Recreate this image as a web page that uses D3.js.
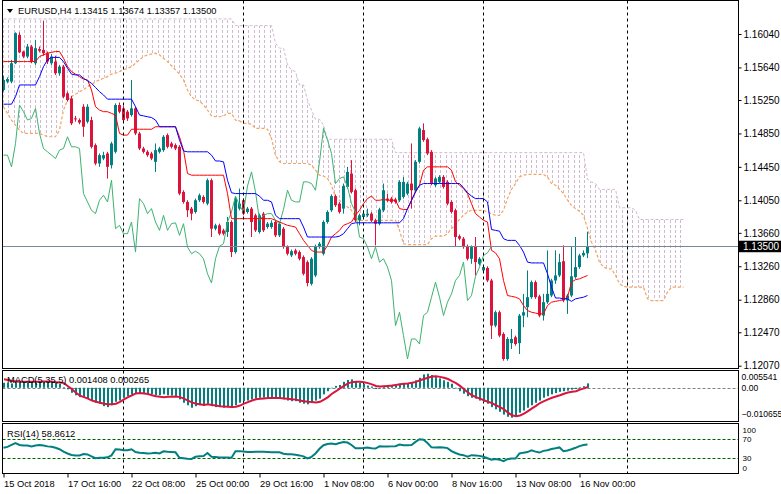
<!DOCTYPE html>
<html>
<head>
<meta charset="utf-8">
<script src="https://cdn.jsdelivr.net/npm/d3@7"></script>
<style>
    body { margin: 0; background: #ffffff; overflow: hidden; }
    text { font-family: "Liberation Sans", Arial, sans-serif; }
</style>
</head>
<body>
<div id="chartContainer"></div>
<script>
// EURUSD H4, one entry per bar (bar 0 = 15 Oct 2018 00:00)
var symbolTitle = 'EURUSD,H4  1.13415 1.13674 1.13357 1.13500';
var lastPrice = 1.13500;

var openP = [
    1.1537, 1.1547, 1.1547, 1.1569, 1.1603, 1.1583, 1.1577, 1.1589, 1.1569, 1.1586,
    1.1585, 1.1581, 1.1569, 1.1571, 1.1557, 1.1565, 1.1533, 1.1527, 1.1503, 1.1501,
    1.1517, 1.1499, 1.1501, 1.1471, 1.1449, 1.1455, 1.1461, 1.1447, 1.1463, 1.1519,
    1.1515, 1.1511, 1.1507, 1.1515, 1.1485, 1.1467, 1.1463, 1.1461, 1.1451, 1.1463,
    1.1465, 1.1483, 1.1473, 1.1471, 1.1469, 1.1415, 1.1403, 1.1395, 1.1391, 1.1405,
    1.1409, 1.1401, 1.1429, 1.1371, 1.1375, 1.1369, 1.1367, 1.1379, 1.1343, 1.1395,
    1.1405, 1.1391, 1.1395, 1.1387, 1.1367, 1.1389, 1.1373, 1.1373, 1.1379, 1.1363,
    1.1371, 1.1349, 1.1339, 1.1345, 1.1343, 1.1337, 1.1331, 1.1305, 1.1315, 1.1349,
    1.1341, 1.1379, 1.1393, 1.1410, 1.1401, 1.1395, 1.1421, 1.1437, 1.1417, 1.1381,
    1.1385, 1.1387, 1.1389, 1.1381, 1.1377, 1.1393, 1.1407, 1.1407, 1.1406, 1.1405,
    1.1409, 1.1413, 1.1425, 1.1417, 1.1451, 1.1489, 1.1478, 1.1463, 1.1423, 1.1427,
    1.1433, 1.1427, 1.1403, 1.1393, 1.1362, 1.1359, 1.1350, 1.1335, 1.1350, 1.1329,
    1.1321, 1.1324, 1.1309, 1.1255, 1.1271, 1.1245, 1.1215, 1.1234, 1.1241, 1.1234,
    1.1267, 1.1277, 1.1289, 1.1307, 1.1290, 1.1267, 1.1283, 1.1291, 1.1309, 1.1315,
    1.1332, 1.1285, 1.1291, 1.1313, 1.1325, 1.1339, 1.13415
];
var highP = [
    1.1554, 1.1552, 1.1573, 1.1606, 1.1606, 1.1584, 1.1592, 1.1591, 1.1597, 1.1589,
    1.1620, 1.1583, 1.1580, 1.1578, 1.1567, 1.1567, 1.1535, 1.1530, 1.1506, 1.1503,
    1.1520, 1.1520, 1.1505, 1.1473, 1.1461, 1.1463, 1.1463, 1.1475, 1.1521, 1.1522,
    1.1518, 1.1513, 1.1549, 1.1517, 1.1487, 1.1469, 1.1465, 1.1463, 1.1473, 1.1469,
    1.1483, 1.1485, 1.1475, 1.1473, 1.1471, 1.1417, 1.1405, 1.1397, 1.1407, 1.1413,
    1.1411, 1.1431, 1.1431, 1.1377, 1.1377, 1.1371, 1.1385, 1.1381, 1.1409, 1.1419,
    1.1407, 1.1397, 1.1397, 1.1389, 1.1389, 1.1391, 1.1379, 1.1381, 1.1381, 1.1379,
    1.1373, 1.1351, 1.1346, 1.1347, 1.1345, 1.1339, 1.1333, 1.1337, 1.1352, 1.1355,
    1.1381, 1.1393, 1.1412, 1.1412, 1.1403, 1.1425, 1.1445, 1.1453, 1.1419, 1.1389,
    1.1393, 1.1395, 1.1391, 1.1383, 1.1396, 1.1425, 1.1413, 1.1409, 1.1408, 1.1429,
    1.1433, 1.1427, 1.1473, 1.1453, 1.1493, 1.1497, 1.1480, 1.1465, 1.1433, 1.1435,
    1.1435, 1.1429, 1.1405, 1.1395, 1.1364, 1.1361, 1.1352, 1.1351, 1.1361, 1.1337,
    1.1327, 1.1326, 1.1311, 1.1273, 1.1273, 1.1247, 1.1241, 1.1251, 1.1243, 1.1269,
    1.1293, 1.1321, 1.1309, 1.1309, 1.1292, 1.1293, 1.1345, 1.1311, 1.1345, 1.1341,
    1.1351, 1.1293, 1.1349, 1.1361, 1.1341, 1.1345, 1.13674
];
var lowP = [
    1.1535, 1.1545, 1.1545, 1.1568, 1.1581, 1.1575, 1.1575, 1.1569, 1.1567, 1.1582,
    1.1578, 1.1568, 1.1567, 1.1555, 1.1554, 1.1527, 1.1523, 1.1495, 1.1499, 1.1496,
    1.1481, 1.1497, 1.1467, 1.1447, 1.1445, 1.1453, 1.1431, 1.1443, 1.1461, 1.1509,
    1.1499, 1.1500, 1.1505, 1.1483, 1.1465, 1.1461, 1.1457, 1.1453, 1.1439, 1.1461,
    1.1463, 1.1467, 1.1467, 1.1465, 1.1411, 1.1401, 1.1385, 1.1381, 1.1389, 1.1403,
    1.1401, 1.1399, 1.1361, 1.1369, 1.1363, 1.1363, 1.1361, 1.1337, 1.1341, 1.1393,
    1.1387, 1.1389, 1.1361, 1.1367, 1.1365, 1.1367, 1.1371, 1.1371, 1.1361, 1.1361,
    1.1347, 1.1339, 1.1337, 1.1339, 1.1333, 1.1315, 1.1302, 1.1303, 1.1313, 1.1347,
    1.1339, 1.1377, 1.1391, 1.1397, 1.1389, 1.1389, 1.1419, 1.1413, 1.1379, 1.1375,
    1.1383, 1.1385, 1.1379, 1.1351, 1.1375, 1.1391, 1.1403, 1.1401, 1.1401, 1.1403,
    1.1407, 1.1411, 1.1395, 1.1415, 1.1449, 1.1475, 1.1459, 1.1423, 1.1421, 1.1425,
    1.1419, 1.1399, 1.1389, 1.1349, 1.1357, 1.1347, 1.1333, 1.1329, 1.1315, 1.1327,
    1.1319, 1.1307, 1.1239, 1.1253, 1.1241, 1.1213, 1.1213, 1.1227, 1.1231, 1.1221,
    1.1253, 1.1265, 1.1287, 1.1287, 1.1265, 1.1261, 1.1281, 1.1289, 1.1305, 1.1313,
    1.1283, 1.1269, 1.1289, 1.1311, 1.1323, 1.1337, 1.13357
];
var closeP = [
    1.1549, 1.1550, 1.1569, 1.1605, 1.1582, 1.1577, 1.1589, 1.1571, 1.1587, 1.1584,
    1.1581, 1.1571, 1.1577, 1.1557, 1.1565, 1.1529, 1.1525, 1.1497, 1.1502, 1.1498,
    1.1493, 1.1517, 1.1469, 1.1449, 1.1459, 1.1459, 1.1445, 1.1473, 1.1519, 1.1511,
    1.1501, 1.1503, 1.1515, 1.1485, 1.1467, 1.1463, 1.1459, 1.1455, 1.1465, 1.1467,
    1.1481, 1.1469, 1.1469, 1.1467, 1.1413, 1.1403, 1.1393, 1.1389, 1.1405, 1.1411,
    1.1403, 1.1429, 1.1371, 1.1375, 1.1365, 1.1365, 1.1379, 1.1343, 1.1407, 1.1401,
    1.1389, 1.1395, 1.1379, 1.1369, 1.1387, 1.1369, 1.1377, 1.1378, 1.1363, 1.1377,
    1.1349, 1.1341, 1.1344, 1.1341, 1.1335, 1.1317, 1.1306, 1.1335, 1.1350, 1.1353,
    1.1379, 1.1391, 1.1410, 1.1399, 1.1391, 1.1422, 1.1439, 1.1415, 1.1381, 1.1387,
    1.1389, 1.1389, 1.1381, 1.1377, 1.1394, 1.1417, 1.1405, 1.1403, 1.1403, 1.1427,
    1.1427, 1.1425, 1.1417, 1.1451, 1.1491, 1.1477, 1.1461, 1.1425, 1.1431, 1.1433,
    1.1421, 1.1401, 1.1391, 1.1361, 1.1359, 1.1349, 1.1335, 1.1349, 1.1331, 1.1335,
    1.1325, 1.1309, 1.1255, 1.1271, 1.1243, 1.1215, 1.1239, 1.1239, 1.1233, 1.1267,
    1.1271, 1.1289, 1.1307, 1.1289, 1.1267, 1.1283, 1.1293, 1.1309, 1.1315, 1.1331,
    1.1285, 1.1291, 1.1314, 1.1325, 1.1339, 1.1342, 1.13500
];

// Ichimoku lines
var tenkan = [
    1.1571, 1.1571, 1.1571, 1.1571, 1.1571, 1.1571, 1.1571, 1.1571, 1.1571, 1.1577,
    1.1579, 1.1581, 1.1582, 1.1583, 1.1583, 1.1575, 1.1565, 1.1559, 1.1556, 1.1553,
    1.1550, 1.1549, 1.1537, 1.1517, 1.1513, 1.1511, 1.1511, 1.1509, 1.1507, 1.1485,
    1.1483, 1.1483, 1.1490, 1.1490, 1.1490, 1.1490, 1.1490, 1.1490, 1.1493, 1.1493,
    1.1493, 1.1493, 1.1493, 1.1493, 1.1481, 1.1465, 1.1437, 1.1435, 1.1435, 1.1435,
    1.1435, 1.1435, 1.1435, 1.1435, 1.1435, 1.1435, 1.1413, 1.1383, 1.1383, 1.1383,
    1.1383, 1.1383, 1.1383, 1.1383, 1.1383, 1.1383, 1.1383, 1.1383, 1.1381, 1.1379,
    1.1377, 1.1375, 1.1374, 1.1373, 1.1365, 1.1357, 1.1351, 1.1345, 1.1343, 1.1343,
    1.1343, 1.1351, 1.1361, 1.1365, 1.1369, 1.1375, 1.1377, 1.1379, 1.1387, 1.1393,
    1.1401, 1.1407, 1.1410, 1.1405, 1.1405, 1.1406, 1.1405, 1.1405, 1.1405, 1.1395,
    1.1394, 1.1394, 1.1405, 1.1415, 1.1423, 1.1441, 1.1445, 1.1445, 1.1445, 1.1445,
    1.1445, 1.1445, 1.1441, 1.1427, 1.1423, 1.1419, 1.1413, 1.1401, 1.1389, 1.1385,
    1.1381, 1.1379, 1.1345, 1.1342, 1.1335, 1.1309, 1.1291, 1.1290, 1.1289, 1.1287,
    1.1279, 1.1273, 1.1271, 1.1270, 1.1269, 1.1269, 1.1279, 1.1283, 1.1284, 1.1285,
    1.1286, 1.1289, 1.1307, 1.1310, 1.1311, 1.1313, 1.1315
];
var kijun = [
    1.1520, 1.1520, 1.1520, 1.1529, 1.1543, 1.1543, 1.1543, 1.1543, 1.1543, 1.1553,
    1.1565, 1.1573, 1.1576, 1.1576, 1.1576, 1.1571, 1.1563, 1.1556, 1.1555, 1.1555,
    1.1551, 1.1548, 1.1545, 1.1540, 1.1535, 1.1531, 1.1526, 1.1526, 1.1526, 1.1526,
    1.1526, 1.1526, 1.1526, 1.1517, 1.1507, 1.1506, 1.1505, 1.1504, 1.1501, 1.1493,
    1.1493, 1.1493, 1.1493, 1.1493, 1.1477, 1.1464, 1.1463, 1.1463, 1.1463, 1.1463,
    1.1463, 1.1463, 1.1459, 1.1452, 1.1452, 1.1451, 1.1429, 1.1414, 1.1413, 1.1413,
    1.1413, 1.1413, 1.1413, 1.1413, 1.1410, 1.1405, 1.1405, 1.1403, 1.1387, 1.1383,
    1.1383, 1.1383, 1.1383, 1.1383, 1.1383, 1.1373, 1.1361, 1.1361, 1.1361, 1.1361,
    1.1361, 1.1361, 1.1361, 1.1361, 1.1362, 1.1365, 1.1371, 1.1377, 1.1378, 1.1378,
    1.1378, 1.1378, 1.1378, 1.1378, 1.1378, 1.1378, 1.1378, 1.1378, 1.1378, 1.1378,
    1.1383, 1.1395, 1.1405, 1.1415, 1.1423, 1.1425, 1.1425, 1.1425, 1.1425, 1.1425,
    1.1425, 1.1425, 1.1425, 1.1425, 1.1425, 1.1420, 1.1414, 1.1410, 1.1407, 1.1407,
    1.1407, 1.1403, 1.1370, 1.1369, 1.1368, 1.1359, 1.1357, 1.1357, 1.1357, 1.1351,
    1.1343, 1.1331, 1.1330, 1.1330, 1.1330, 1.1330, 1.1317, 1.1301, 1.1288, 1.1288,
    1.1287, 1.1287, 1.1284, 1.1287, 1.1288, 1.1289, 1.1291
];
// cloud spans, already shifted forward (bars 0..170)
var spanA = [
    1.1517, 1.1509, 1.1501, 1.1495, 1.1489, 1.1485, 1.1485, 1.1485, 1.1485, 1.1485,
    1.1483, 1.1481, 1.1481, 1.1481, 1.1489, 1.1513, 1.1525, 1.1529, 1.1532, 1.1535,
    1.1537, 1.1541, 1.1543, 1.1547, 1.1549, 1.1551, 1.1553, 1.1556, 1.1557, 1.1559,
    1.1561, 1.1563, 1.1565, 1.1569, 1.1573, 1.1577, 1.1579, 1.1580, 1.1581, 1.1579,
    1.1575, 1.1571, 1.1566, 1.1561, 1.1556, 1.1549, 1.1537, 1.1529, 1.1525, 1.1524,
    1.1519, 1.1513, 1.1506, 1.1505, 1.1505, 1.1506, 1.1509, 1.1509, 1.1501, 1.1500,
    1.1497, 1.1497, 1.1496, 1.1491, 1.1491, 1.1491, 1.1490, 1.1479, 1.1459, 1.1451,
    1.1449, 1.1449, 1.1449, 1.1449, 1.1449, 1.1449, 1.1449, 1.1447, 1.1441, 1.1435,
    1.1434, 1.1431, 1.1423, 1.1409, 1.1405, 1.1400, 1.1397, 1.1393, 1.1385, 1.1381,
    1.1381, 1.1381, 1.1381, 1.1381, 1.1381, 1.1381, 1.1381, 1.1381, 1.1381, 1.1369,
    1.1353, 1.1352, 1.1352, 1.1352, 1.1352, 1.1352, 1.1352, 1.1359, 1.1362, 1.1362,
    1.1362, 1.1365, 1.1371, 1.1376, 1.1382, 1.1387, 1.1391, 1.1393, 1.1393, 1.1393,
    1.1393, 1.1391, 1.1389, 1.1387, 1.1387, 1.1393, 1.1407, 1.1418, 1.1425, 1.1433,
    1.1435, 1.1436, 1.1436, 1.1436, 1.1436, 1.1436, 1.1433, 1.1425, 1.1423, 1.1418,
    1.1413, 1.1405, 1.1399, 1.1395, 1.1392, 1.1387, 1.1371, 1.1355, 1.1345, 1.1331,
    1.1325, 1.1323, 1.1323, 1.1315, 1.1305, 1.1302, 1.1301, 1.1301, 1.1301, 1.1301,
    1.1301, 1.1287, 1.1285, 1.1285, 1.1285, 1.1285, 1.1295, 1.1301, 1.1301, 1.1301,
    1.1301
];
var spanB = [
    1.1622, 1.1622, 1.1622, 1.1622, 1.1622, 1.1622, 1.1622, 1.1622, 1.1622, 1.1622,
    1.1622, 1.1622, 1.1622, 1.1622, 1.1622, 1.1622, 1.1622, 1.1622, 1.1622, 1.1622,
    1.1622, 1.1622, 1.1622, 1.1622, 1.1622, 1.1622, 1.1622, 1.1622, 1.1622, 1.1622,
    1.1622, 1.1622, 1.1622, 1.1622, 1.1622, 1.1622, 1.1622, 1.1622, 1.1622, 1.1622,
    1.1622, 1.1622, 1.1622, 1.1622, 1.1622, 1.1622, 1.1622, 1.1622, 1.1622, 1.1622,
    1.1622, 1.1622, 1.1622, 1.1622, 1.1622, 1.1622, 1.1622, 1.1622, 1.1614, 1.1614,
    1.1614, 1.1614, 1.1614, 1.1614, 1.1614, 1.1614, 1.1614, 1.1614, 1.1593, 1.1587,
    1.1587, 1.1567, 1.1561, 1.1559, 1.1543, 1.1543, 1.1525, 1.1513, 1.1502, 1.1502,
    1.1495, 1.1478, 1.1478, 1.1478, 1.1478, 1.1478, 1.1478, 1.1478, 1.1478, 1.1478,
    1.1478, 1.1478, 1.1478, 1.1478, 1.1478, 1.1478, 1.1478, 1.1478, 1.1462, 1.1462,
    1.1462, 1.1462, 1.1462, 1.1462, 1.1462, 1.1462, 1.1462, 1.1462, 1.1462, 1.1462,
    1.1462, 1.1462, 1.1462, 1.1462, 1.1462, 1.1462, 1.1462, 1.1462, 1.1462, 1.1462,
    1.1462, 1.1462, 1.1462, 1.1462, 1.1462, 1.1462, 1.1462, 1.1462, 1.1462, 1.1462,
    1.1462, 1.1462, 1.1462, 1.1462, 1.1462, 1.1462, 1.1462, 1.1462, 1.1462, 1.1462,
    1.1462, 1.1462, 1.1462, 1.1462, 1.1462, 1.1462, 1.1430, 1.1427, 1.1425, 1.1418,
    1.1418, 1.1418, 1.1418, 1.1418, 1.1396, 1.1396, 1.1396, 1.1396, 1.1393, 1.1382,
    1.1382, 1.1382, 1.1382, 1.1382, 1.1382, 1.1382, 1.1382, 1.1382, 1.1382, 1.1382,
    1.1382
];
var chikouShift = 24;

// MACD(5,35,5)
var macdMain = [
    0.0016, 0.0016, 0.0014, 0.0019, 0.0021, 0.0019, 0.0018, 0.0019, 0.0019, 0.0019,
    0.0021, 0.0019, 0.0018, 0.0016, 0.0013, 0.0002, -0.0005, -0.0016, -0.0024, -0.0030,
    -0.0032, -0.0034, -0.0041, -0.0048, -0.0051, -0.0059, -0.0062, -0.0056, -0.0045, -0.0041,
    -0.0032, -0.0027, -0.0021, -0.0019, -0.0018, -0.0019, -0.0019, -0.0021, -0.0024, -0.0024,
    -0.0021, -0.0024, -0.0025, -0.0027, -0.0037, -0.0048, -0.0056, -0.0064, -0.0059, -0.0056,
    -0.0056, -0.0051, -0.0059, -0.0062, -0.0062, -0.0064, -0.0062, -0.0064, -0.0056, -0.0048,
    -0.0043, -0.0041, -0.0037, -0.0035, -0.0032, -0.0032, -0.0032, -0.0032, -0.0032, -0.0034,
    -0.0037, -0.0041, -0.0043, -0.0043, -0.0048, -0.0051, -0.0053, -0.0048, -0.0041, -0.0035,
    -0.0021, -0.0011, 0.0000, 0.0006, 0.0009, 0.0019, 0.0025, 0.0027, 0.0019, 0.0016,
    0.0013, 0.0007, 0.0004, -0.0004, -0.0002, 0.0006, 0.0009, 0.0007, 0.0007, 0.0013,
    0.0015, 0.0014, 0.0015, 0.0024, 0.0032, 0.0043, 0.0045, 0.0041, 0.0034, 0.0030,
    0.0024, 0.0019, 0.0013, -0.0002, -0.0011, -0.0019, -0.0027, -0.0032, -0.0035, -0.0041,
    -0.0045, -0.0051, -0.0062, -0.0069, -0.0077, -0.0086, -0.0093, -0.0096, -0.0091, -0.0080,
    -0.0073, -0.0064, -0.0056, -0.0048, -0.0041, -0.0032, -0.0027, -0.0021, -0.0017, -0.0013,
    -0.0011, -0.0009, -0.0006, -0.0004, 0.0002, 0.0005, 0.001408
];
var macdSignal = [
    0.0027, 0.0025, 0.0022, 0.0020, 0.0019, 0.0019, 0.0019, 0.0019, 0.0019, 0.0019,
    0.0020, 0.0020, 0.0019, 0.0018, 0.0017, 0.0015, 0.0005, -0.0005, -0.0016, -0.0025,
    -0.0030, -0.0035, -0.0041, -0.0045, -0.0048, -0.0051, -0.0053, -0.0053, -0.0051, -0.0045,
    -0.0037, -0.0030, -0.0024, -0.0018, -0.0017, -0.0018, -0.0020, -0.0024, -0.0027, -0.0029,
    -0.0030, -0.0029, -0.0029, -0.0028, -0.0030, -0.0035, -0.0041, -0.0047, -0.0051, -0.0053,
    -0.0055, -0.0053, -0.0055, -0.0057, -0.0059, -0.0060, -0.0061, -0.0062, -0.0061, -0.0057,
    -0.0051, -0.0046, -0.0041, -0.0037, -0.0035, -0.0034, -0.0033, -0.0033, -0.0033, -0.0033,
    -0.0034, -0.0035, -0.0037, -0.0038, -0.0041, -0.0043, -0.0045, -0.0046, -0.0047, -0.0045,
    -0.0038, -0.0030, -0.0019, -0.0011, -0.0002, 0.0006, 0.0014, 0.0018, 0.0019, 0.0019,
    0.0018, 0.0015, 0.0011, 0.0006, 0.0004, 0.0005, 0.0006, 0.0007, 0.0009, 0.0011,
    0.0013, 0.0014, 0.0016, 0.0019, 0.0024, 0.0028, 0.0032, 0.0036, 0.0037, 0.0035,
    0.0032, 0.0028, 0.0021, 0.0015, 0.0006, -0.0005, -0.0015, -0.0024, -0.0030, -0.0035,
    -0.0040, -0.0045, -0.0049, -0.0056, -0.0062, -0.0069, -0.0080, -0.0088, -0.0091, -0.0089,
    -0.0083, -0.0075, -0.0066, -0.0058, -0.0049, -0.0043, -0.0037, -0.0032, -0.0028, -0.0024,
    -0.0019, -0.0015, -0.0013, -0.0011, -0.0006, -0.0002, 0.000265
];

// RSI(14)
var rsiValues = [
    52, 54, 58, 62, 58, 57, 57, 55, 57, 58,
    57, 55, 54, 52, 49, 44, 40, 37, 36, 36,
    39, 38, 34, 30, 31, 31, 32, 36, 49, 48.5,
    47, 47, 49, 43, 41.5, 41, 40, 40.5, 41.5, 40,
    44.5, 43.5, 43, 42.5, 31, 30, 29, 28.6, 33, 34,
    34.5, 41, 33, 32.5, 31.5, 31.5, 31.5, 31, 45, 45,
    44, 43, 43, 43.5, 43.8, 43.5, 43, 42.5, 42.4, 42.4,
    39.5, 38.5, 38.2, 37.5, 36, 34, 29.5, 33, 40, 50,
    57.5, 60, 61, 59.5, 62, 64, 63, 58, 51, 51,
    51.5, 52.8, 51, 50.5, 55, 54.5, 54.8, 55, 55.5, 59,
    57.5, 57.5, 58, 64.5, 70, 69, 62, 53, 52.8, 53.2,
    52.5, 51.4, 45, 41, 38, 36.5, 33.4, 36.5, 35.8, 35,
    33, 30, 27, 28.3, 27, 24, 28, 29.3, 29.3, 40,
    41.8, 43, 46.5, 44, 42, 45.5, 47, 49.5, 51, 52.8,
    45, 46.5, 49, 52, 55.5, 58, 58.8612
];

var priceTicks = [1.16040, 1.15640, 1.15250, 1.14850, 1.14450, 1.14050, 1.13660,
                  1.13260, 1.12860, 1.12470, 1.12070];
var macdTicks = [0.005541, 0, -0.010655];
var rsiTicks = [100, 70, 30, 0];
var rsiLevels = [70, 30];
var timeLabelBars = [0, 16, 32, 48, 64, 80, 96, 112, 128, 144];
var timeLabels = ['15 Oct 2018', '17 Oct 16:00', '22 Oct 08:00', '25 Oct 00:00', '29 Oct 16:00',
                  '1 Nov 08:00', '6 Nov 00:00', '8 Nov 16:00', '13 Nov 08:00', '16 Nov 00:00'];
var gridBars = [30, 60, 90, 120, 156];

(function () {
    var width = 781, height = 494,
        left = 2.5, right = 738.5,
        mainTop = 0.5, mainBottom = 368.5,
        macdTop = 370.5, macdBottom = 421.5,
        rsiTop = 423.5, rsiBottom = 473.5,
        bullcolor = '#008080',
        bearcolor = '#dc143c',
        thistle = '#d2b9d2',
        sandy = '#f4a460',
        font = 'Liberation Sans, Arial, sans-serif';

    var svg = d3.select('#chartContainer').append('svg')
        .attr('width', width)
        .attr('height', height)
        .style('display', 'block')
        .style('background', '#ffffff');

    var x = d3.scaleLinear().domain([0, 146]).range([3, 587]),
        y = d3.scaleLinear().domain([1.12070, 1.16040]).range([365.7, 34]),
        yMacd = d3.scaleLinear().domain([-0.010655, 0.005541]).range([421, 370.5]),
        yRsi = d3.scaleLinear().domain([0, 100]).range([472.5, 425]);

    var crisp = function (v) { return Math.round(v) + 0.5; };

    var defs = svg.append('defs');
    function addClip(id, y0, y1) {
        defs.append('clipPath').attr('id', id).append('rect')
            .attr('x', left + 0.5).attr('y', y0 + 0.5)
            .attr('width', right - left - 1).attr('height', y1 - y0 - 1);
    }
    addClip('mainClip', mainTop, mainBottom);
    addClip('macdClip', macdTop, macdBottom);
    addClip('rsiClip', rsiTop, rsiBottom);

    var cloudIdx = d3.range(spanA.length);
    var cloudArea = d3.area()
        .x(function (i) { return x(i); })
        .y0(function (i) { return y(spanA[i]); })
        .y1(function (i) { return y(spanB[i]); });
    defs.append('clipPath').attr('id', 'cloudClip')
        .append('path').attr('d', cloudArea(cloudIdx));

    var main = svg.append('g').attr('clip-path', 'url(#mainClip)');

    // hatched kumo
    main.append('g').attr('clip-path', 'url(#cloudClip)')
        .selectAll('line')
        .data(d3.range(x(0), x(spanA.length - 1) + 1, 16 / 3))
        .enter().append('line')
        .attr('x1', function (d) { return crisp(d); })
        .attr('x2', function (d) { return crisp(d); })
        .attr('y1', 0).attr('y2', mainBottom)
        .attr('stroke', thistle)
        .attr('stroke-dasharray', '3,2');

    var spanLine = function (arr) {
        return d3.line()
            .x(function (i) { return x(i) + 0.5; })
            .y(function (i) { return y(arr[i]); })(cloudIdx);
    };
    main.append('path').attr('d', spanLine(spanB))
        .attr('fill', 'none').attr('stroke', thistle).attr('stroke-dasharray', '3,2');
    main.append('path').attr('d', spanLine(spanA))
        .attr('fill', 'none').attr('stroke', sandy).attr('stroke-width', 1.2)
        .attr('stroke-dasharray', '3,2');

    // weekly grid, all panels
    [[mainTop, mainBottom], [macdTop, macdBottom], [rsiTop, rsiBottom]].forEach(function (p) {
        svg.append('g').selectAll('line').data(gridBars).enter().append('line')
            .attr('x1', function (d) { return x(d) + 0.5; })
            .attr('x2', function (d) { return x(d) + 0.5; })
            .attr('y1', p[0]).attr('y2', p[1])
            .attr('stroke', '#000').attr('stroke-dasharray', '3,3');
    });

    // candles
    var bars = d3.range(closeP.length);
    var candle = main.append('g').selectAll('.candle').data(bars).enter()
        .append('g').attr('class', 'candle');
    candle.append('line')
        .attr('x1', function (i) { return x(i) + 0.5; })
        .attr('x2', function (i) { return x(i) + 0.5; })
        .attr('y1', function (i) { return y(highP[i]); })
        .attr('y2', function (i) { return y(lowP[i]); })
        .attr('stroke', function (i) { return closeP[i] >= openP[i] ? bullcolor : bearcolor; });
    candle.append('rect')
        .attr('x', function (i) { return x(i) - 1; })
        .attr('width', 3)
        .attr('y', function (i) { return Math.min(y(openP[i]), y(closeP[i])); })
        .attr('height', function (i) { return Math.max(1, Math.abs(y(openP[i]) - y(closeP[i]))); })
        .attr('fill', function (i) { return closeP[i] >= openP[i] ? bullcolor : bearcolor; });

    // tenkan, kijun, chikou
    var seriesLine = function (arr, idx, fn) {
        return d3.line()
            .x(function (i) { return x(i) + 0.5; })
            .y(function (i) { return y(fn ? fn(i) : arr[i]); })(idx);
    };
    var chikouIdx = d3.range(closeP.length - chikouShift);
    main.append('path')
        .attr('d', seriesLine(closeP, chikouIdx, function (i) { return closeP[i + chikouShift]; }))
        .attr('fill', 'none').attr('stroke', '#3cb371');
    main.append('path').attr('d', seriesLine(tenkan, d3.range(tenkan.length)))
        .attr('fill', 'none').attr('stroke', '#ff0000');
    main.append('path').attr('d', seriesLine(kijun, d3.range(kijun.length)))
        .attr('fill', 'none').attr('stroke', '#0000ff');

    // bid line
    main.append('line')
        .attr('x1', left).attr('x2', right)
        .attr('y1', crisp(y(lastPrice))).attr('y2', crisp(y(lastPrice)))
        .attr('stroke', '#778899');

    // MACD panel
    var macd = svg.append('g').attr('clip-path', 'url(#macdClip)');
    macd.append('line')
        .attr('x1', left).attr('x2', right)
        .attr('y1', crisp(yMacd(0))).attr('y2', crisp(yMacd(0)))
        .attr('stroke', '#808080').attr('stroke-dasharray', '3,2');
    macd.selectAll('.hist').data(macdMain).enter().append('rect')
        .attr('class', 'hist')
        .attr('x', function (d, i) { return x(i); })
        .attr('width', 2)
        .attr('y', function (d) { return Math.min(yMacd(d), yMacd(0)); })
        .attr('height', function (d) { return Math.max(0.5, Math.abs(yMacd(d) - yMacd(0))); })
        .attr('fill', bullcolor);
    macd.append('path')
        .attr('d', d3.line()
            .x(function (d, i) { return x(i) + 1; })
            .y(function (d) { return yMacd(d); })(macdSignal))
        .attr('fill', 'none').attr('stroke', bearcolor).attr('stroke-width', 2);

    // RSI panel
    var rsi = svg.append('g').attr('clip-path', 'url(#rsiClip)');
    rsi.selectAll('.level').data(rsiLevels).enter().append('line')
        .attr('x1', left).attr('x2', right)
        .attr('y1', function (d) { return crisp(yRsi(d)); })
        .attr('y2', function (d) { return crisp(yRsi(d)); })
        .attr('stroke', '#006400').attr('stroke-dasharray', '3,2');
    rsi.append('path')
        .attr('d', d3.line()
            .x(function (d, i) { return x(i) + 0.5; })
            .y(function (d) { return yRsi(d); })(rsiValues))
        .attr('fill', 'none').attr('stroke', bullcolor).attr('stroke-width', 2);

    // panel frames
    [[mainTop, mainBottom], [macdTop, macdBottom], [rsiTop, rsiBottom]].forEach(function (p) {
        svg.append('rect')
            .attr('x', left).attr('y', p[0])
            .attr('width', right - left).attr('height', p[1] - p[0])
            .attr('fill', 'none').attr('stroke', '#000');
    });

    // right price scale
    var priceAxis = svg.append('g')
        .attr('transform', 'translate(' + right + ',0)')
        .call(d3.axisRight(y).tickValues(priceTicks).tickSize(3).tickPadding(2)
            .tickFormat(d3.format('.5f')));
    priceAxis.select('.domain').remove();
    priceAxis.selectAll('text').attr('font-size', '10px').attr('font-family', font);

    var bid = svg.append('g');
    bid.append('rect')
        .attr('x', right - 0.5).attr('y', y(lastPrice) - 5.5)
        .attr('width', width - right + 0.5).attr('height', 11.5)
        .attr('fill', '#000');
    bid.append('text')
        .attr('x', right + 4.5).attr('y', y(lastPrice)).attr('dy', '0.36em')
        .attr('fill', '#fff').attr('font-size', '10px')
        .text(d3.format('.5f')(lastPrice));

    var macdAxis = svg.append('g')
        .attr('transform', 'translate(' + right + ',0)')
        .call(d3.axisRight(yMacd).tickValues(macdTicks).tickSize(0).tickPadding(3)
            .tickFormat(function (d) { return d === 0 ? '0.00' : d3.format('.6f')(d); }));
    macdAxis.select('.domain').remove();
    macdAxis.selectAll('text').attr('font-size', '8.6px').attr('font-family', font)
        .attr('transform', function (d) {
            return d === macdTicks[0] ? 'translate(0,6)' : d === macdTicks[2] ? 'translate(0,-7)' : null;
        });

    var rsiAxis = svg.append('g')
        .attr('transform', 'translate(' + right + ',0)')
        .call(d3.axisRight(yRsi).tickValues(rsiTicks).tickSize(0).tickPadding(4)
            .tickFormat(d3.format('d')));
    rsiAxis.select('.domain').remove();
    rsiAxis.selectAll('text').attr('font-size', '8px').attr('font-family', font)
        .attr('transform', function (d) {
            return d === 100 ? 'translate(0,5)' : d === 0 ? 'translate(0,-4.5)' : null;
        });

    // time scale
    var timeAxis = svg.append('g')
        .attr('transform', 'translate(0.5,' + rsiBottom + ')')
        .call(d3.axisBottom(x).tickValues(timeLabelBars).tickSize(4).tickPadding(3)
            .tickFormat(function (d, i) { return timeLabels[i]; }));
    timeAxis.select('.domain').remove();
    timeAxis.selectAll('text').attr('text-anchor', 'start').attr('x', 0)
        .attr('font-size', '9.3px').attr('font-family', font);

    // headers
    svg.append('path').attr('d', 'M7,9L13,9L10,13Z').attr('fill', '#000');
    svg.append('text').attr('x', 18).attr('y', 14)
        .attr('font-size', '9.3px').text(symbolTitle);
    svg.append('text').attr('x', 7).attr('y', 383)
        .attr('font-size', '9.3px')
        .text('MACD(5,35,5) ' + macdMain[macdMain.length - 1].toFixed(6) + ' ' +
              macdSignal[macdSignal.length - 1].toFixed(6));
    svg.append('text').attr('x', 7).attr('y', 436.5)
        .attr('font-size', '9.3px')
        .text('RSI(14) ' + rsiValues[rsiValues.length - 1].toFixed(4));
})();
</script>
</body>
</html>
